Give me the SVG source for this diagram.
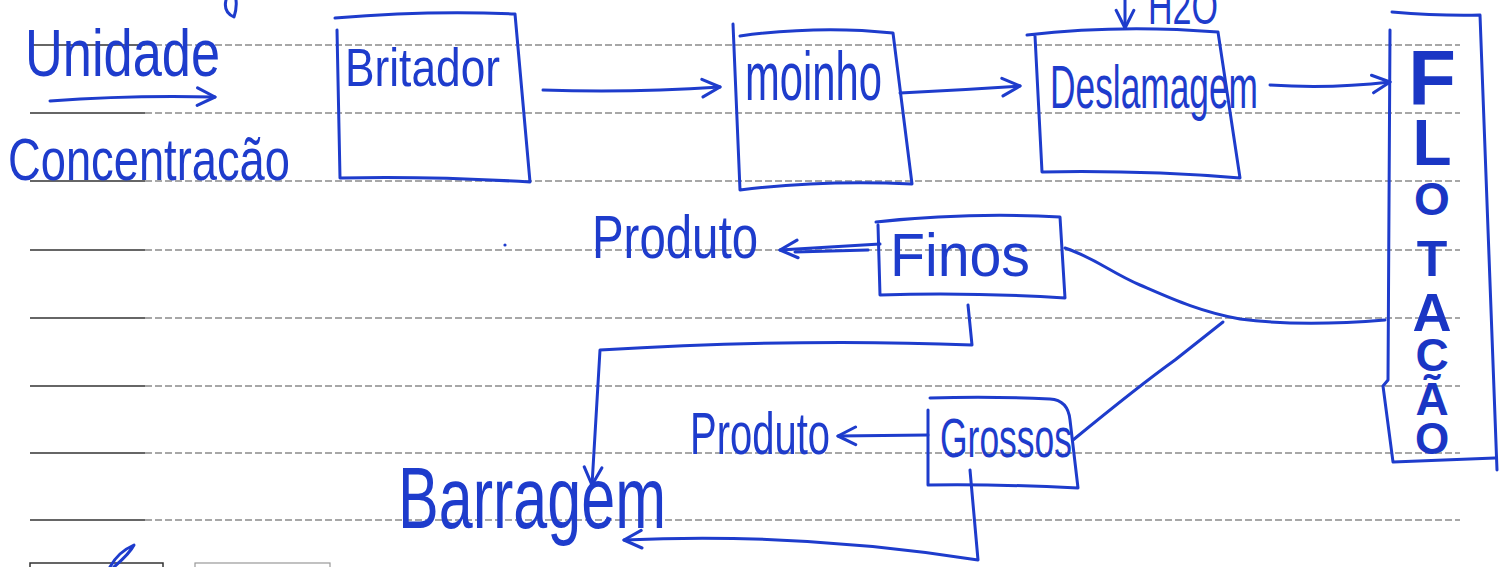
<svg xmlns="http://www.w3.org/2000/svg" width="1508" height="567" viewBox="0 0 1508 567">
<style>
.ink{fill:none;stroke:#1e3ccc;stroke-width:3;stroke-linecap:round;stroke-linejoin:round}
.t{font-family:"Liberation Sans",Arial,sans-serif;fill:#1e3ccc}
.fl{font-family:"Liberation Sans",Arial,sans-serif;fill:#1a36c4;font-weight:bold;text-anchor:middle}
.rs{stroke:#333;stroke-width:1.6}
.rd{stroke:#8a8a8a;stroke-width:1.4;stroke-dasharray:7 3}
</style>
<defs>
<marker id="arrow" viewBox="0 0 20 20" refX="18" refY="10" markerWidth="22" markerHeight="22" markerUnits="userSpaceOnUse" orient="auto">
<path d="M2,2 L18,10 L2,18" fill="none" stroke="#1e3ccc" stroke-width="2.8" stroke-linecap="round" stroke-linejoin="round"/>
</marker>
</defs>
<rect width="1508" height="567" fill="#ffffff"/>
<g id="ruled-lines">
<g class="rs"><line x1="30" y1="45" x2="145" y2="45"/><line x1="30" y1="113" x2="145" y2="113"/><line x1="30" y1="181" x2="145" y2="181"/><line x1="30" y1="250" x2="145" y2="250"/><line x1="30" y1="318" x2="145" y2="318"/><line x1="30" y1="386" x2="145" y2="386"/><line x1="30" y1="453" x2="145" y2="453"/><line x1="30" y1="520" x2="145" y2="520"/></g>
<g class="rd"><line x1="145" y1="45" x2="1460" y2="45"/><line x1="145" y1="113" x2="1460" y2="113"/><line x1="145" y1="181" x2="1460" y2="181"/><line x1="145" y1="250" x2="1460" y2="250"/><line x1="145" y1="318" x2="1460" y2="318"/><line x1="145" y1="386" x2="1460" y2="386"/><line x1="145" y1="453" x2="1460" y2="453"/><line x1="145" y1="520" x2="1460" y2="520"/></g>
<rect x="30" y="563" width="133" height="10" fill="none" stroke="#333" stroke-width="1.5"/>
<rect x="195" y="563" width="135" height="10" fill="none" stroke="#999" stroke-width="1.2"/>
</g>
<g id="stray-marks">
<path class="ink" d="M226,0 Q223,12 234,17 Q237,8 236,0"/>
<circle cx="505" cy="245" r="1.6" fill="#1e3ccc"/>
<path class="ink" stroke-width="2" d="M110,567 Q118,552 134,545 Q130,553 114,567"/>
</g>
<g id="legend">
<text class="t" x="25" y="76" font-size="66" textLength="195" lengthAdjust="spacingAndGlyphs">Unidade</text>
<text class="t" x="8" y="180" font-size="60" textLength="282" lengthAdjust="spacingAndGlyphs">Concentracão</text>
</g>
<g id="britador">
<path class="ink" d="M337,30 L340,178 Q430,176 530,182 L515,14 Q430,10 335,18"/>
<text class="t" x="345" y="86" font-size="54" textLength="155" lengthAdjust="spacingAndGlyphs">Britador</text>
</g>
<g id="moinho">
<path class="ink" d="M733,24 L740,190 Q820,180 912,184 L893,33 Q820,25 740,36"/>
<text class="t" x="745" y="100" font-size="68" textLength="137" lengthAdjust="spacingAndGlyphs">moinho</text>
</g>
<g id="deslamagem">
<path class="ink" d="M1035,36 L1042,172 Q1140,170 1240,178 L1218,32 Q1120,24 1027,35"/>
<text class="t" x="1050" y="108" font-size="62" textLength="208" lengthAdjust="spacingAndGlyphs">Deslamagem</text>
</g>
<g id="h2o">
<text class="t" x="1148" y="24" font-size="50" textLength="70" lengthAdjust="spacingAndGlyphs">H2O</text>
</g>
<g id="flotacao">
<path class="ink" stroke-width="2.5" d="M1392,12 Q1440,16 1480,15 L1497,470 M1390,30 L1388,380 L1383,386 L1393,462 Q1440,460 1495,458"/>
<text class="fl"><tspan x="1432" y="105" font-size="78">F</tspan><tspan x="1432" y="165" font-size="64">L</tspan><tspan x="1432" y="215" font-size="46">O</tspan><tspan x="1432" y="276" font-size="50">T</tspan><tspan x="1432" y="331" font-size="54">A</tspan><tspan x="1432" y="371" font-size="46">C</tspan><tspan x="1432" y="415" font-size="46">Ã</tspan><tspan x="1432" y="454" font-size="44">O</tspan></text>
</g>
<g id="finos">
<path class="ink" d="M878,225 L880,295 Q970,292 1065,298 L1060,217 Q970,212 876,222"/>
<text class="t" x="890" y="276" font-size="62" textLength="140" lengthAdjust="spacingAndGlyphs">Finos</text>
</g>
<g id="grossos">
<path class="ink" d="M928,410 L928,485 Q1000,484 1078,488 L1070,420 Q1068,400 1050,399 Q990,396 930,398"/>
<text class="t" x="940" y="457" font-size="56" textLength="132" lengthAdjust="spacingAndGlyphs">Grossos</text>
</g>
<g id="produto-finos">
<text class="t" x="592" y="258" font-size="62" textLength="166" lengthAdjust="spacingAndGlyphs">Produto</text>
</g>
<g id="produto-grossos">
<text class="t" x="690" y="454" font-size="60" textLength="140" lengthAdjust="spacingAndGlyphs">Produto</text>
</g>
<g id="barragem">
<text class="t" x="398" y="528" font-size="88" textLength="268" lengthAdjust="spacingAndGlyphs">Barragem</text>
</g>
<g id="connectors">
<path class="ink" marker-end="url(#arrow)" d="M50,101 Q130,95 215,97"/>
<path class="ink" marker-end="url(#arrow)" d="M543,90 Q630,93 720,87"/>
<path class="ink" marker-end="url(#arrow)" d="M900,93 Q960,90 1020,86"/>
<path class="ink" marker-end="url(#arrow)" d="M1270,85 Q1330,89 1390,82"/>
<path class="ink" marker-end="url(#arrow)" d="M1125,0 L1125,28"/>
<path class="ink" marker-end="url(#arrow)" d="M880,244 L780,250"/>
<path class="ink" d="M868,250 L795,252"/>
<path class="ink" d="M1065,248 C1095,258 1110,272 1140,285 S1200,312 1240,319 Q1300,327 1385,320"/>
<path class="ink" stroke-width="2.4" d="M1073,440 Q1140,385 1175,360 L1223,322"/>
<path class="ink" marker-end="url(#arrow)" d="M968,305 L972,345 Q800,338 600,350 L592,485"/>
<path class="ink" marker-end="url(#arrow)" d="M928,435 L838,436"/>
<path class="ink" marker-end="url(#arrow)" d="M970,470 L978,560 Q800,532 624,540"/>
</g>
</svg>
